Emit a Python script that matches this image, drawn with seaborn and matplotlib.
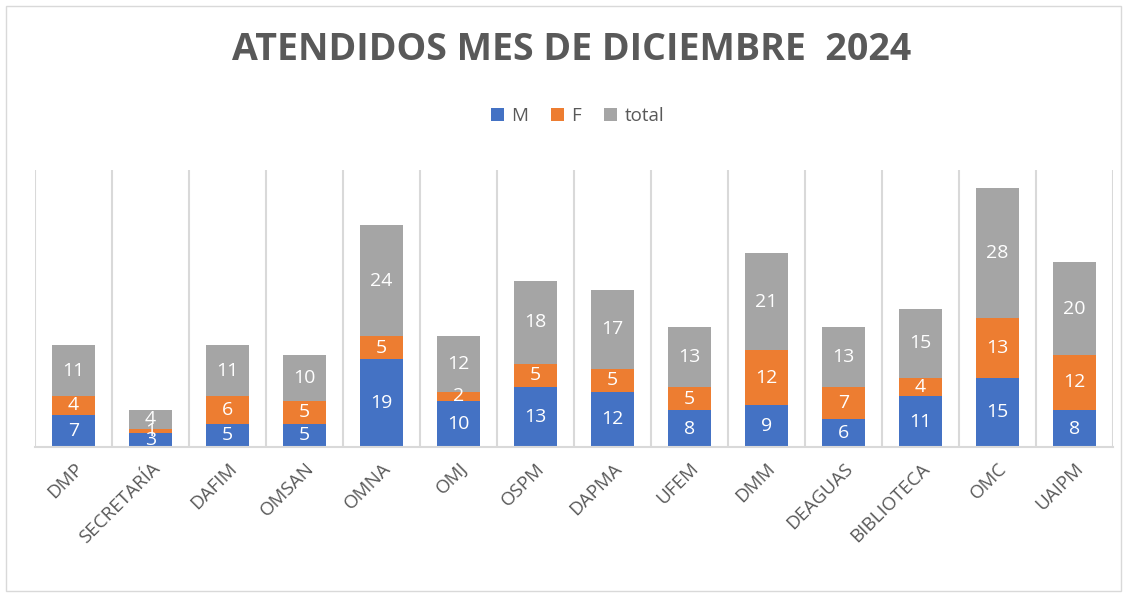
import matplotlib
matplotlib.use("Agg")
from matplotlib import pyplot as plt
from matplotlib.patches import Rectangle
import seaborn as sns
import numpy as np

# datos
areas = ['DMP', 'SECRETARÍA', 'DAFIM', 'OMSAN', 'OMNA', 'OMJ', 'OSPM', 'DAPMA',
         'UFEM', 'DMM', 'DEAGUAS', 'BIBLIOTECA', 'OMC', 'UAIPM']
M = [7, 3, 5, 5, 19, 10, 13, 12, 8, 9, 6, 11, 15, 8]
F = [4, 1, 6, 5, 5, 2, 5, 5, 5, 12, 7, 4, 13, 12]
total = [11, 4, 11, 10, 24, 12, 18, 17, 13, 21, 13, 15, 28, 20]

sns.set_style('white')
plt.rcParams['font.family'] = ['Open Sans', 'DejaVu Sans']

colores = {'M': '#4472C4', 'F': '#ED7D31', 'total': '#A5A5A5'}
gris = '#595959'

fig = plt.figure(figsize=(11.32, 5.98), dpi=100)
ax = fig.add_axes([0.031, 0.2525, 0.952, 0.4632])

M_arr = np.array(M)
F_arr = np.array(F)
bases = {'M': np.zeros(len(M)), 'F': M_arr, 'total': M_arr + F_arr}
series = {'M': M, 'F': F, 'total': total}

for nombre, vals in series.items():
    sns.barplot(x=areas, y=vals, bottom=bases[nombre], color=colores[nombre],
                width=0.56, ax=ax, label=nombre, saturation=1, linewidth=0)
    for i, v in enumerate(vals):
        ax.text(i, bases[nombre][i] + v / 2, str(v), ha='center', va='center',
                color='white', fontsize=14)

ax.set_ylim(0, 60)
ax.set_xlim(-0.5, len(areas) - 0.5)
ax.set_yticks([])
ax.set_xticks(range(len(areas)))
ax.set_xticklabels(areas, rotation=45, ha='right', rotation_mode='anchor',
                   color=gris, fontsize=13.5)
ax.tick_params(axis='x', length=0, pad=9)
for lado in ['top', 'right', 'left']:
    ax.spines[lado].set_visible(False)
ax.spines['bottom'].set_color('#D9D9D9')
ax.spines['bottom'].set_linewidth(1.5)
for xb in np.arange(-0.5, len(areas), 1):
    ax.axvline(xb, color='#D9D9D9', linewidth=1.5, zorder=0)

fig.text(0.505, 0.916, 'ATENDIDOS MES DE DICIEMBRE  2024', ha='center', va='center',
         fontsize=27, fontweight='bold', color=gris)

ax.legend(loc='center', bbox_to_anchor=(0.51, 0.806), bbox_transform=fig.transFigure,
          ncol=3, frameon=False, fontsize=13.5, handlelength=0.7, handleheight=0.7,
          handletextpad=0.4, columnspacing=1.2, labelcolor=gris)

fig.patches.append(Rectangle((0.005, 0.012), 0.985, 0.978, transform=fig.transFigure,
                             fill=False, edgecolor='#D9D9D9', linewidth=1))

fig.savefig('out.png', dpi=100)
